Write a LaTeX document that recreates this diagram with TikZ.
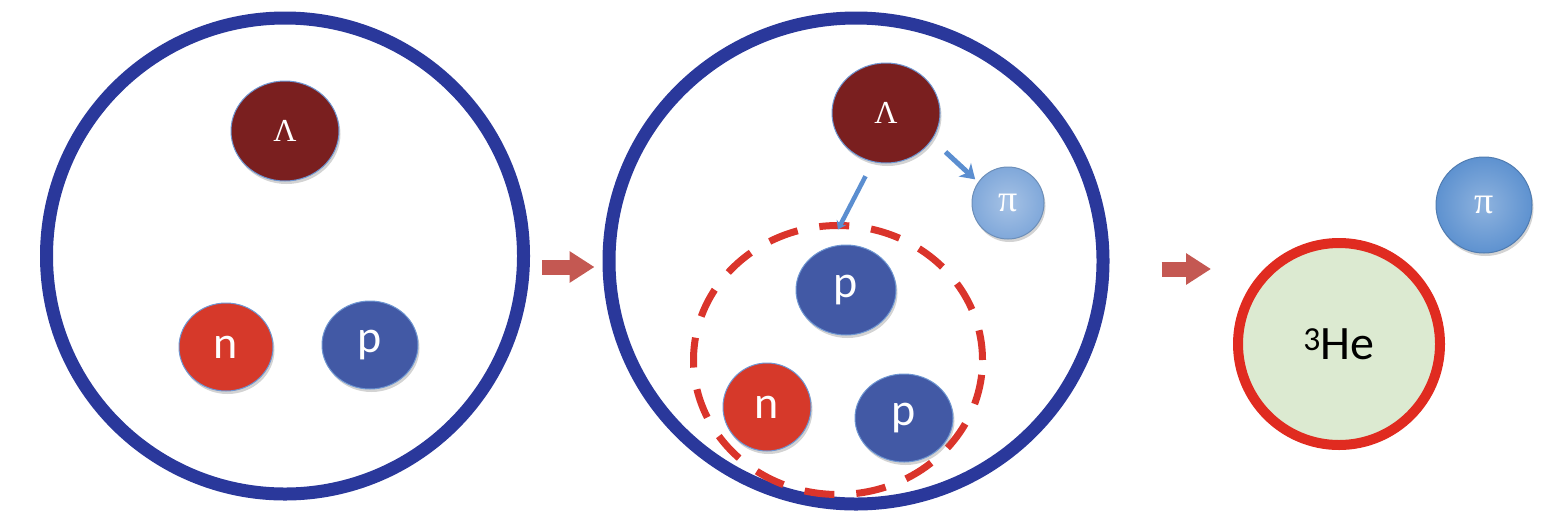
\documentclass[tikz,border=0pt]{standalone}
\usepackage{fontspec}
\newfontfamily\carl{Carlito}
\newfontfamily\tms{Liberation Serif}
\usetikzlibrary{shapes.geometric,shadows,arrows.meta}
\definecolor{bigblue}{RGB}{42,56,155}
\definecolor{lamcol}{RGB}{122,31,31}
\definecolor{ncol}{RGB}{214,57,42}
\definecolor{pcol}{RGB}{66,89,165}
\definecolor{piM}{RGB}{128,168,218}
\definecolor{piR}{RGB}{94,146,208}
\definecolor{arrred}{RGB}{196,88,82}
\definecolor{dashred}{RGB}{218,52,43}
\definecolor{hefill}{RGB}{220,234,209}
\definecolor{heborder}{RGB}{224,43,32}
\definecolor{smallarr}{RGB}{91,142,208}
\definecolor{edgeblue}{RGB}{110,150,210}
\tikzset{
  big/.style={ellipse, draw=bigblue, line width=13pt},
  ball/.style={ellipse, draw=edgeblue, line width=1pt, text=white,
    drop shadow={opacity=0.35, shadow xshift=1.5pt, shadow yshift=-3pt}},
  lamball/.style={ball, fill=lamcol, minimum width=108pt, minimum height=100pt,
    font=\tms\fontsize{32}{38}\selectfont},
  nball/.style={ball, fill=ncol, minimum width=94pt, minimum height=88pt,
    font=\carl\fontsize{46}{50}\selectfont},
  pball/.style={ball, fill=pcol, minimum width=96pt, minimum height=88pt,
    font=\carl\fontsize{46}{50}\selectfont},
  piball/.style={ball, inner color=#1!70!white, outer color=#1, draw=#1!85!black,
    font=\tms\fontsize{38}{44}\selectfont},
  bigarrow/.style={draw=arrred, line width=15pt, -{Triangle[length=25pt,width=30pt]}},
  smallarrow/.style={draw=smallarr, line width=5pt, -{Stealth[length=14pt,width=18pt,inset=4pt]}},
  group/.style={ellipse, draw=dashred, line width=7pt, dash pattern=on 30pt off 22pt}
}
\begin{document}
\begin{tikzpicture}[x=1pt,y=-1pt]
\useasboundingbox (0,0) rectangle (1562,523);
% first stage
\node[big, minimum width=477pt, minimum height=476pt] (c1) at (285,256) {};
\node[lamball] (lam1) at (285,131) {Λ};
\node[nball] (n1) at (226,347) {n};
\node[pball] (p1) at (370,345) {p};
% second stage
\node[big, minimum width=494pt, minimum height=486pt] (c2) at (856,261) {};
\node[group, minimum width=289pt, minimum height=269pt] (grp) at (838,360) {};
\node[lamball] (lam2) at (886,113) {Λ};
\node[piball=piM, minimum size=72pt] (pi2) at (1008,203) {π};
\node[pball, minimum width=100pt, minimum height=90pt] (p2a) at (846,290) {p};
\node[nball, minimum width=88pt, minimum height=88pt] (n2) at (767,407) {n};
\node[pball, minimum width=98pt, minimum height=88pt] (p2b) at (904,418) {p};
\draw[smallarrow, shorten <=18pt, shorten >=4pt] (lam2.-30) -- (pi2.145);
\draw[smallarrow, -{Stealth[length=8pt,width=11pt]}, line width=4.5pt, shorten <=16pt, shorten >=20pt] (lam2.255) -- (p2a.112);
% third stage
\node[ellipse, draw=heborder, fill=hefill, line width=10pt, minimum size=202pt,
  font=\carl\fontsize{48}{52}\selectfont,
  drop shadow={opacity=0.3, shadow xshift=1.5pt, shadow yshift=-3pt}] (he) at (1339,344) {\textsuperscript{3}He};
\node[piball=piR, minimum size=96pt] (pi3) at (1484,205) {π};
% transition arrows
\draw[bigarrow, shorten <=12pt, shorten >=8pt] (c1.east |- 0,267) -- (c2.west |- 0,267);
\draw[bigarrow, shorten <=52pt, shorten >=22pt] (c2.east |- 0,269) -- (he.west |- 0,269);
\end{tikzpicture}
\end{document}
